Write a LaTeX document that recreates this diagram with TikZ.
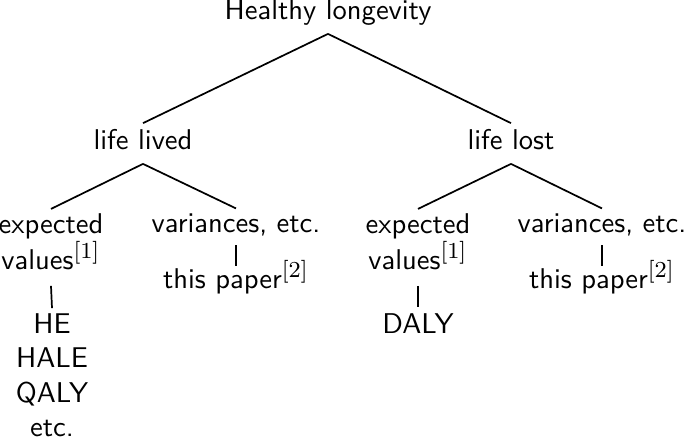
\documentclass[tikz,border=0pt]{standalone}
\DeclareMathSizes{10}{10}{8}{6}
\begin{document}
\begin{tikzpicture}[x=0.35pt,y=-0.35pt,
  lbl/.style={inner sep=0pt,font=\sffamily},
  multi/.style={lbl,align=center},
  edge/.style={line width=0.6pt}]
\useasboundingbox (0,0) rectangle (685,438);
% level 0
\node[lbl,anchor=base] (root) at (328,20) {Healthy longevity};
% level 1
\node[lbl,anchor=base] (ll) at (143,149) {life lived};
\node[lbl,anchor=base] (lo) at (511,149) {life lost};
% level 2 left
\node[multi,anchor=north] (ev1) at (51,213.2) {expected\\[0.5pt]values$^{[1]}$};
\node[lbl,anchor=base] (var1) at (236,232) {variances, etc.};
% level 2 right
\node[multi,anchor=north] (ev2) at (418,213.2) {expected\\[0.5pt]values$^{[1]}$};
\node[lbl,anchor=base] (var2) at (602,232) {variances, etc.};
% level 3
\node[multi,anchor=north] (he) at (52,313.2) {HE\\HALE\\QALY\\etc.};
\node[lbl,anchor=base] (tp1) at (236,288) {this paper$^{[2]}$};
\node[lbl,anchor=base] (daly) at (418,333) {DALY};
\node[lbl,anchor=base] (tp2) at (602,288) {this paper$^{[2]}$};
% edges
\draw[edge] ([yshift=-2.6pt]root.south) -- ([yshift=1.8pt]ll.north);
\draw[edge] ([yshift=-2.6pt]root.south) -- ([yshift=1.8pt]lo.north);
\draw[edge] ([yshift=-4.9pt]ll.south) -- ([yshift=1.5pt]ev1.north);
\draw[edge] ([yshift=-4.9pt]ll.south) -- ([yshift=1.5pt]var1.north);
\draw[edge] ([yshift=-4.9pt]lo.south) -- ([yshift=1.5pt]ev2.north);
\draw[edge] ([yshift=-4.9pt]lo.south) -- ([yshift=1.5pt]var2.north);
\draw[edge] ([yshift=-5.5pt]ev1.south) -- ([yshift=1.8pt]he.north);
\draw[edge] ([yshift=-3.1pt]var1.south) -- ([yshift=-2.1pt]tp1.north);
\draw[edge] ([yshift=-5.5pt]ev2.south) -- ([yshift=1.8pt]daly.north);
\draw[edge] ([yshift=-3.1pt]var2.south) -- ([yshift=-2.1pt]tp2.north);
\end{tikzpicture}
\end{document}
